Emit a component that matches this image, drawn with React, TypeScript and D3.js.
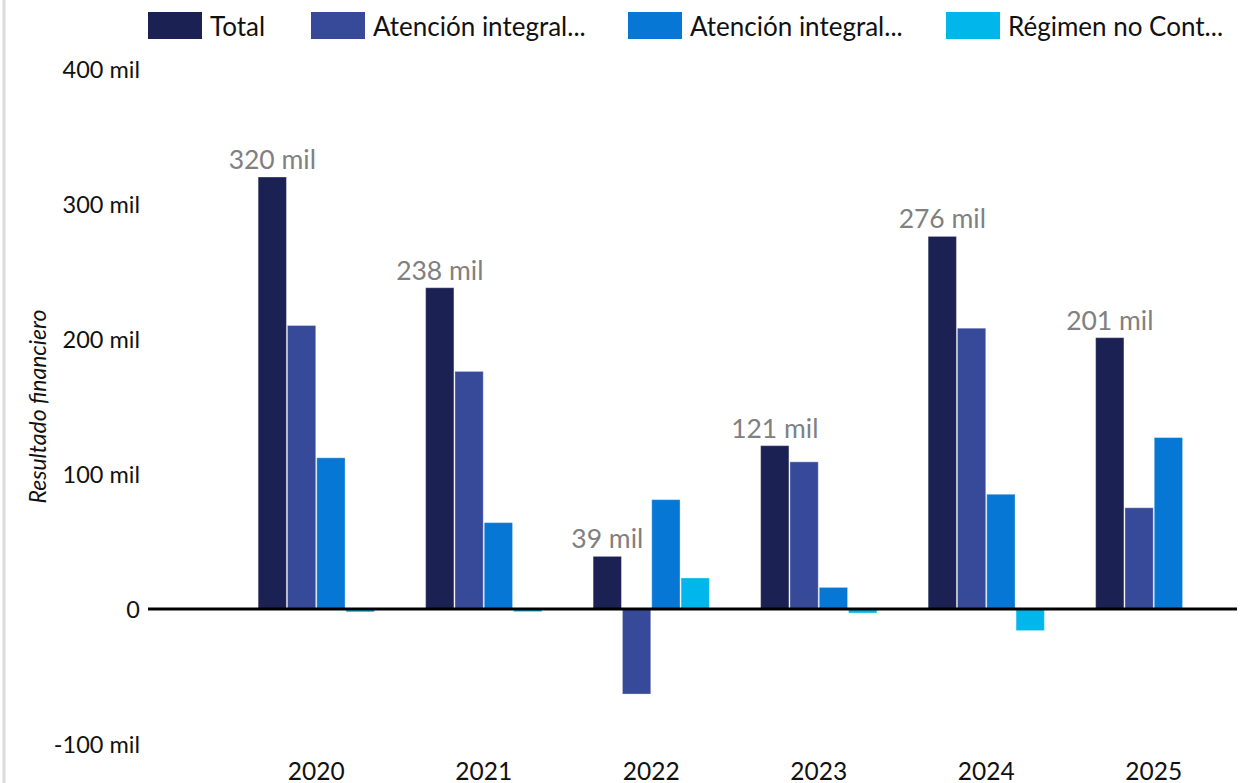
import React from "react";
import * as d3 from "d3";

const years = ["2020", "2021", "2022", "2023", "2024", "2025"];
const seriesNames = ["Total", "Atención integral...", "Atención integral...", "Régimen no Cont..."];
const seriesKeys = ["total", "ai1", "ai2", "reg"];
const colors = ["#1b2153", "#374a9a", "#0677d4", "#00b6eb"];
const total = [320, 238, 39, 121, 276, 201];
const atencion1 = [210, 176, -63, 109, 208, 75];
const atencion2 = [112, 64, 81, 16, 85, 127];
const regimen = [-2.2, -2, 23, -3, -16, 0];
const yTicks = [-100, 0, 100, 200, 300, 400];

const W = 1251;
const H = 783;

export default function App() {
  const values = [total, atencion1, atencion2, regimen];
  const y = d3.scaleLinear().domain([-100, 400]).range([744, 69]);
  const x0 = d3.scaleBand<string>().domain(years).range([232.5, 1237.5]).paddingInner(0.3).paddingOuter(0.15);
  const x1 = d3.scaleBand<string>().domain(seriesKeys).range([0, x0.bandwidth()]).padding(0);
  const font = "Lato, 'Open Sans', sans-serif";

  const legendX = [148, 311, 628, 946];

  return (
    <svg width={W} height={H} style={{ position: "absolute", left: 0, top: 0, background: "#fff" }} fontFamily={font}>
      <rect x={0} y={0} width={W} height={H} fill="#fff" />
      <line x1={4} x2={4} y1={0} y2={H} stroke="#dcdcdc" strokeWidth={3} />
      {/* legend */}
      {seriesNames.map((n, i) => (
        <g key={i}>
          <rect x={legendX[i]} y={12} width={54} height={27} fill={colors[i]} />
          <text x={legendX[i] + 62} y={26} dominantBaseline="central" fontSize={26} fill="#111">{n}</text>
        </g>
      ))}
      {/* y ticks */}
      {yTicks.map((t) => (
        <text key={t} x={140} y={y(t)} textAnchor="end" dominantBaseline="central" fontSize={23.5} fill="#111">
          {t === 0 ? "0" : `${t} mil`}
        </text>
      ))}
      <text transform={`translate(37,${y(150)}) rotate(-90)`} textAnchor="middle" dominantBaseline="central" fontSize={23} fontStyle="italic" fill="#111">
        Resultado financiero
      </text>
      {/* bars */}
      {years.map((yr, yi) => (
        <g key={yr} transform={`translate(${x0(yr)},0)`}>
          {seriesKeys.map((k, si) => {
            const v = values[si][yi];
            if (v === 0) return null;
            const top = y(Math.max(v, 0));
            const h = Math.abs(y(v) - y(0));
            return (
              <rect key={k} x={x1(k)! + 0.5} y={top} width={x1.bandwidth() - 1} height={h} fill={colors[si]}
                stroke="#ffffff" strokeOpacity={0.35} strokeWidth={1} />
            );
          })}
          <text x={x1("total")! + x1.bandwidth() / 2} y={y(total[yi]) - 8} textAnchor="middle" fontSize={26.5} fill="#808080">
            {`${total[yi]} mil`}
          </text>
          <text x={x0.bandwidth() / 2} y={770} textAnchor="middle" dominantBaseline="central" fontSize={24.5} fill="#111">
            {yr}
          </text>
        </g>
      ))}
      <line x1={148} x2={1237} y1={y(0)} y2={y(0)} stroke="#000" strokeWidth={3} />
    </svg>
  );
}
